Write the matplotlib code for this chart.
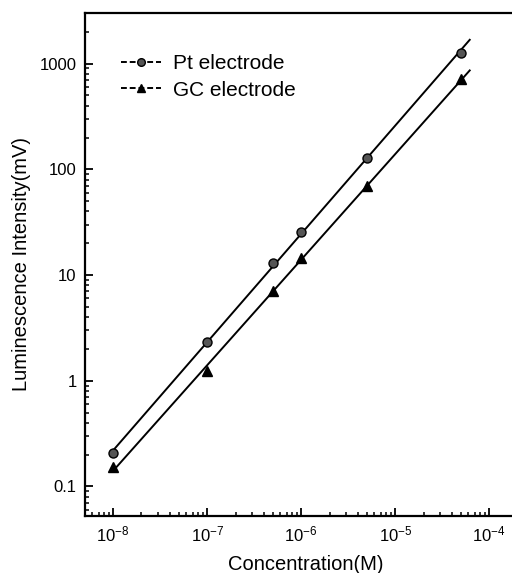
import numpy as np
import matplotlib
matplotlib.use("Agg")
import matplotlib.pyplot as plt
from matplotlib.ticker import LogLocator, FixedLocator, FixedFormatter, NullFormatter

plt.rcParams['font.family'] = ['Liberation Sans', 'DejaVu Sans']
plt.rcParams['mathtext.fontset'] = 'custom'
plt.rcParams['mathtext.rm'] = 'Liberation Sans'
plt.rcParams['mathtext.it'] = 'Liberation Sans:italic'
plt.rcParams['mathtext.bf'] = 'Liberation Sans:bold'

conc = [1e-8, 1e-7, 5e-7, 1e-6, 5e-6, 5e-5]
pt_vals = [0.205, 2.34, 13.0, 25.7, 127, 1270]
gc_vals = [0.151, 1.24, 7.05, 14.5, 69, 708]
series_names = ["Pt electrode", "GC electrode"]
x_ticks = [1e-8, 1e-7, 1e-6, 1e-5, 1e-4]
x_ticklabels = ["10$^{-8}$", "10$^{-7}$", "10$^{-6}$", "10$^{-5}$", "10$^{-4}$"]
y_ticks = [0.1, 1, 10, 100, 1000]
y_ticklabels = ["0.1", "1", "10", "100", "1000"]

fig = plt.figure(figsize=(5.12, 5.73), dpi=100)
ax = fig.add_axes([0.166, 0.0995, 0.863, 0.878])

def fit_line(x, y, xmin, xmax):
    lx = np.log10(x); ly = np.log10(y)
    k, b = np.polyfit(lx, ly, 1)
    xs = np.array([np.log10(xmin), np.log10(xmax)])
    return 10**xs, 10**(k*xs + b)

for vals, mk, fc, name in [(pt_vals, 'o', '#555555', series_names[0]),
                           (gc_vals, '^', 'black', series_names[1])]:
    fx, fy = fit_line(conc, vals, 1e-8, 6.2e-5)
    ax.plot(fx, fy, color='black', lw=1.4)
    ax.plot(conc, vals, linestyle='none', marker=mk, ms=6.5, mfc=fc, mec='black', mew=1)
    ax.plot([], [], color='black', lw=1.4, ls=(0, (3, 1.5)), marker=mk, ms=5.5, mfc=fc,
            mec='black', label=name)

ax.set_xscale('log')
ax.set_yscale('log')
ax.set_xlim(10**-8.3, 10**-3.6)
ax.set_ylim(10**-1.28, 10**3.48)

ax.xaxis.set_major_locator(FixedLocator(x_ticks))
ax.xaxis.set_major_formatter(FixedFormatter(x_ticklabels))
ax.yaxis.set_major_locator(FixedLocator(y_ticks))
ax.yaxis.set_major_formatter(FixedFormatter(y_ticklabels))
ax.xaxis.set_minor_locator(LogLocator(base=10, subs=np.arange(2, 10)))
ax.yaxis.set_minor_locator(LogLocator(base=10, subs=np.arange(2, 10)))
ax.xaxis.set_minor_formatter(NullFormatter())
ax.yaxis.set_minor_formatter(NullFormatter())

ax.tick_params(which='major', direction='in', length=6, width=1.3, labelsize=12,
               top=False, right=False, pad=6)
ax.tick_params(which='minor', direction='in', length=3, width=1.1, top=False, right=False)
for s in ax.spines.values():
    s.set_linewidth(1.6)

ax.set_xlabel("Concentration(M)", fontsize=14.5, labelpad=8)
ax.set_ylabel("Luminescence Intensity(mV)", fontsize=14.5, labelpad=6)

leg = ax.legend(loc='upper left', bbox_to_anchor=(0.04, 0.955), frameon=False,
                fontsize=15, handlelength=1.9, handletextpad=0.6, labelspacing=0.35)

fig.savefig("out.png", dpi=100)
